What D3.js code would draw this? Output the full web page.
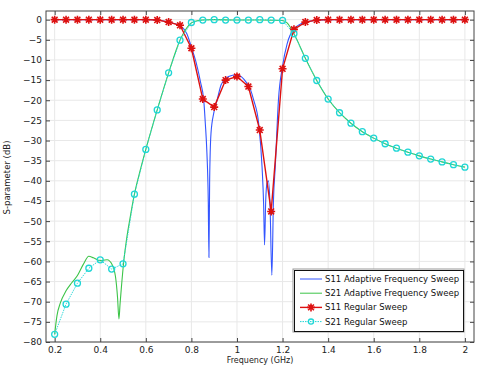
<!DOCTYPE html>
<html>
<head>
<meta charset="utf-8">
<script src="https://cdn.jsdelivr.net/npm/d3@7"></script>
<style>
  body { margin: 0; background: #fff; }
  svg { display: block; font-family: "DejaVu Sans", sans-serif; }
</style>
</head>
<body>
<div class="graph-goes-here"></div>
<script>
// regular sweep frequencies (GHz)
var regFreq = [0.2, 0.25, 0.3, 0.35, 0.4, 0.45, 0.5, 0.55, 0.6, 0.65, 0.7, 0.75, 0.8, 0.85, 0.9, 0.95,
    1.0, 1.05, 1.1, 1.15, 1.2, 1.25, 1.3, 1.35, 1.4, 1.45, 1.5, 1.55, 1.6, 1.65, 1.7, 1.75, 1.8, 1.85, 1.9, 1.95, 2.0];

var s11Regular = [0, 0, 0, 0, 0, 0, 0, 0, 0, -0.1, -0.6, -1.4, -7.1, -19.7, -21.7, -15.0,
    -14.1, -16.6, -27.4, -47.6, -12.2, -2.4, -0.6, -0.1, 0, 0, 0, 0, 0, 0, 0, 0, 0, 0, 0, 0, 0];

var s21Regular = [-78.1, -70.6, -65.4, -61.7, -59.6, -61.9, -60.6, -43.3, -32.2, -22.4, -13.2, -5.1, -0.7, -0.1, 0, -0.1,
    -0.1, -0.1, 0, -0.1, -0.2, -3.5, -9.6, -15.1, -19.7, -23.1, -25.7, -27.8, -29.4, -30.8, -31.9, -32.9, -33.8, -34.6, -35.3, -36.0, -36.6];

// adaptive frequency sweep (dense)
var s11AdaptFreq = [0.2, 0.6, 0.65, 0.7, 0.75, 0.78, 0.8, 0.82, 0.84, 0.854, 0.861, 0.868, 0.874, 0.877, 0.88, 0.886, 0.898, 0.913,
    0.93, 0.95, 0.98, 1.0, 1.02, 1.04, 1.06, 1.073, 1.095, 1.11, 1.117, 1.121, 1.126, 1.132, 1.138, 1.145, 1.153, 1.16, 1.168, 1.182,
    1.2, 1.22, 1.25, 1.3, 1.35, 1.4, 2.0];
var s11Adapt = [0, 0, -0.1, -0.6, -1.5, -3.5, -6.8, -10.5, -15.5, -19.9, -25.7, -33, -45, -59, -40, -28.2, -23.2, -19.9,
    -16.2, -14.6, -13.8, -13.7, -14.2, -15.5, -17.5, -19.9, -25.7, -36.5, -46, -55.9, -45, -40.5, -40, -46, -63.4, -45, -36.5, -19.9,
    -11.5, -6, -2.3, -0.6, -0.15, 0, 0];

var s21AdaptFreq = [0.2, 0.21, 0.225, 0.25, 0.275, 0.3, 0.325, 0.35, 0.37, 0.4, 0.415, 0.43, 0.453, 0.467, 0.476, 0.482, 0.487,
    0.492, 0.504, 0.515, 0.53, 0.55, 0.575, 0.6, 0.65, 0.7, 0.75, 0.78, 0.8, 0.83, 0.85, 0.9, 1.0, 1.1, 1.2, 1.22, 1.25, 1.3, 1.35,
    1.4, 1.45, 1.5, 1.55, 1.6, 1.65, 1.7, 1.75, 1.8, 1.85, 1.9, 1.95, 2.0];
var s21Adapt = [-78.1, -73.5, -70.3, -67.3, -65.3, -63.5, -60.8, -58.7, -59.1, -59.8, -59.7, -59.6, -60.9, -63.8, -69, -74.3, -70.5,
    -67, -59.6, -54.7, -49.5, -43.3, -37.5, -32.2, -22.4, -13.2, -5.1, -2, -0.8, -0.2, -0.1, 0, -0.1, -0.1, -0.2, -0.8, -3.5, -9.6, -15.1,
    -19.7, -23.1, -25.7, -27.8, -29.4, -30.8, -31.9, -32.9, -33.8, -34.6, -35.3, -36.0, -36.6];

var xTicks = [0.2, 0.4, 0.6, 0.8, 1.0, 1.2, 1.4, 1.6, 1.8, 2.0];
var yTicks = [0, -5, -10, -15, -20, -25, -30, -35, -40, -45, -50, -55, -60, -65, -70, -75, -80];

var legendNames = ["S11 Adaptive Frequency Sweep", "S21 Adaptive Frequency Sweep", "S11 Regular Sweep", "S21 Regular Sweep"];

var blue = "#3355ff", green = "#3cc448", red = "#dd1111", cyan = "#1fd6d6";

var W = 479, H = 366;
var margin = { top: 11, right: 5, bottom: 24, left: 46 };
var width = W - margin.left - margin.right,
    height = H - margin.top - margin.bottom;

var svg = d3.select(".graph-goes-here").append("svg")
    .attr("width", W).attr("height", H);

var g = svg.append("g").attr("transform", "translate(" + margin.left + "," + margin.top + ")");

var x = d3.scaleLinear().domain([0.162, 2.04]).range([0, width]);
var y = d3.scaleLinear().domain([-80, 2.15]).range([height, 0]);

// grid
g.append("g").selectAll("line").data(xTicks).join("line")
    .attr("x1", d => x(d)).attr("x2", d => x(d)).attr("y1", 0).attr("y2", height)
    .attr("stroke", "#e8e8e8");
g.append("g").selectAll("line").data(yTicks).join("line")
    .attr("y1", d => y(d)).attr("y2", d => y(d)).attr("x1", 0).attr("x2", width)
    .attr("stroke", "#e8e8e8");

g.append("clipPath").attr("id", "clip").append("rect")
    .attr("width", width).attr("height", height);

var plot = g.append("g").attr("clip-path", "url(#clip)");

var smooth = d3.line().x(d => x(d[0])).y(d => y(d[1])).curve(d3.curveMonotoneX);
var straight = d3.line().x(d => x(d[0])).y(d => y(d[1]));

plot.append("path").datum(d3.zip(s11AdaptFreq, s11Adapt))
    .attr("fill", "none").attr("stroke", blue).attr("stroke-width", 1.1).attr("d", smooth);
plot.append("path").datum(d3.zip(s21AdaptFreq, s21Adapt))
    .attr("fill", "none").attr("stroke", green).attr("stroke-width", 1.1).attr("d", smooth);

var star = "M-4,0H4M0,-4V4M-2.9,-2.9L2.9,2.9M-2.9,2.9L2.9,-2.9";

plot.append("path").datum(d3.zip(regFreq, s11Regular))
    .attr("fill", "none").attr("stroke", red).attr("stroke-width", 1.4).attr("d", straight);
plot.append("g").selectAll("path").data(d3.zip(regFreq, s11Regular)).join("path")
    .attr("transform", d => "translate(" + x(d[0]) + "," + y(d[1]) + ")")
    .attr("d", star).attr("stroke", red).attr("stroke-width", 1.6).attr("fill", "none");

plot.append("path").datum(d3.zip(regFreq, s21Regular))
    .attr("fill", "none").attr("stroke", cyan).attr("stroke-width", 0.9)
    .attr("stroke-dasharray", "1.5,1").attr("d", straight);
plot.append("g").selectAll("circle").data(d3.zip(regFreq, s21Regular)).join("circle")
    .attr("cx", d => x(d[0])).attr("cy", d => y(d[1])).attr("r", 3)
    .attr("fill", "none").attr("stroke", cyan).attr("stroke-width", 1.3);

// axes, ticks inward
var xAxis = g.append("g").attr("transform", "translate(0," + height + ")")
    .call(d3.axisBottom(x).tickValues(xTicks).tickSize(-4).tickPadding(5).tickFormat(d => String(+d.toFixed(1))));
var xAxisTop = g.append("g")
    .call(d3.axisTop(x).tickValues(xTicks).tickSize(-4).tickFormat(""));
var yAxis = g.append("g")
    .call(d3.axisLeft(y).tickValues(yTicks).tickSize(-4).tickPadding(4));
var yAxisRight = g.append("g").attr("transform", "translate(" + width + ",0)")
    .call(d3.axisRight(y).tickValues(yTicks).tickSize(-4).tickFormat(""));

[xAxis, xAxisTop, yAxis, yAxisRight].forEach(a => {
    a.select(".domain").remove();
    a.selectAll(".tick line").attr("stroke", "#444");
    a.selectAll("text").attr("font-size", 9).attr("fill", "#222").attr("font-family", "DejaVu Sans");
});

g.append("rect").attr("width", width).attr("height", height)
    .attr("fill", "none").attr("stroke", "#444").attr("stroke-width", 1);

// axis titles
svg.append("text").attr("x", margin.left + width / 2).attr("y", 362.5)
    .attr("text-anchor", "middle").attr("font-size", 8).attr("fill", "#222")
    .text("Frequency (GHz)");
svg.append("text").attr("transform", "translate(10," + (margin.top + height / 2 + 1) + ") rotate(-90)")
    .attr("text-anchor", "middle").attr("font-size", 8.5).attr("fill", "#222")
    .text("S-parameter (dB)");

// legend
var lx = 293, ly = 269, lw = 171, lh = 63;
svg.append("rect").attr("x", lx).attr("y", ly).attr("width", lw).attr("height", lh)
    .attr("fill", "#fff").attr("stroke", "#999").attr("stroke-width", 1);
svg.append("rect").attr("x", lx + 1.5).attr("y", ly + 1.5).attr("width", lw - 2).attr("height", lh - 2)
    .attr("fill", "none").attr("stroke", "#111").attr("stroke-width", 1);

var legColors = [blue, green, red, cyan];
legendNames.forEach((name, i) => {
    var ry = 279 + i * 14.2;
    var row = svg.append("g");
    var ln = row.append("line").attr("x1", 300).attr("x2", 322).attr("y1", ry).attr("y2", ry)
        .attr("stroke", legColors[i]).attr("stroke-width", i == 2 ? 1.4 : 1);
    if (i == 3) ln.attr("stroke-dasharray", "1.5,1");
    if (i == 2) row.append("path").attr("transform", "translate(311," + ry + ")").attr("d", star)
        .attr("stroke", red).attr("stroke-width", 1.6).attr("fill", "none");
    if (i == 3) row.append("circle").attr("cx", 311).attr("cy", ry).attr("r", 2.6)
        .attr("fill", "none").attr("stroke", cyan).attr("stroke-width", 1.3);
    row.append("text").attr("x", 325).attr("y", ry + 3).attr("font-size", 8.5).attr("fill", "#111")
        .text(name);
});
</script>
</body>
</html>
